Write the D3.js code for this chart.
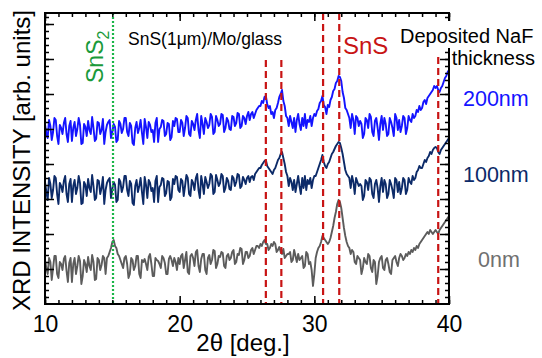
<!DOCTYPE html>
<html>
<head>
<meta charset="utf-8">
<script src="https://cdn.jsdelivr.net/npm/d3@7/dist/d3.min.js"></script>
<style>
  body { margin: 0; background: #fff; }
  svg { font-family: "Liberation Sans", Arial, sans-serif; }
</style>
</head>
<body>
<svg id="chart" width="542" height="358"></svg>
<script>
// scan grid: 2theta from 10 to 40 deg, 0.1 deg step
const scanStart = 10, scanStep = 0.1;

// NaF 200 nm
const nm200 = [
  180,170,166,184,178,164,172,186,184,168, 160,179,176,170,181,186,170,162,178,183,
  163,176,182,168,175,186,179,160,161,180, 177,168,183,174,170,187,176,163,165,182,
  181,170,174,185,160,172,179,182,184,166, 172,180,177,162,164,183,180,171,175,186,
  186,172,168,181,178,161,159,176,182,171, 176,184,171,160,185,177,166,182,179,172,
  174,162,181,186,162,175,177,184,183,168, 170,181,180,164,167,183,178,186,185,172,
  172,184,181,168,176,188,186,170,168,183, 180,174,184,190,174,166,188,180,170,186,
  182,176,179,190,187,170,172,188,184,178, 180,190,189,172,176,186,183,175,174,188,
  187,178,181,191,190,176,178,188,186,180,
  188,192,184,190,192,186,190,194,196,198,
  198,203,201,207,208,200,196,198,190,192, 186,194,196,201,207,210,214,203,198,188,186,
  178,188,182,176,186,172,184,190,180,174, 186,178,190,176,184,182,188,178,186,190,
  188,193,195,201,203,208,199,197,190,199, 197,204,207,213,215,221,223,228,227,223,
  212,206,196,194,
  190,186,176,190,184,170,188,186,178,183, 180,166,170,186,184,176,190,187,172,168,
  183,186,176,164,180,188,174,186,180,168, 170,186,182,176,168,190,186,174,184,172,
  178,188,186,170,176,188,
  184,182,190,186,188,194,192,198,194,196, 202,204,200,206,208,210,212,214,218,216,
  218,214,212,216,218,222,226,228,232,234
];

// NaF 100 nm
const nm100 = [
  122,112,104,126,120,106,114,128,126,110, 100,121,118,112,123,128,110,102,120,125,
  102,118,124,110,116,128,121,100,101,122, 119,108,125,116,112,129,118,104,106,124,
  123,110,116,127,100,114,121,124,126,106, 115,122,119,102,104,125,122,112,117,128,
  128,114,108,123,120,101,99,118,124,112, 118,126,112,100,127,119,106,124,121,113,
  116,102,123,128,102,117,119,126,125,108, 111,123,122,104,107,125,120,128,127,114,
  112,125,123,108,118,129,126,110,108,124, 121,114,126,130,114,106,128,120,110,127,
  122,116,120,130,128,110,112,129,124,118, 121,130,128,112,116,126,123,115,114,128,
  126,118,122,130,129,116,118,127,124,120,
  126,128,122,127,128,124,130,132,134,136,
  136,139,141,143,144,138,136,134,132,130, 134,136,140,144,146,150,152,146,140,132,128,
  118,126,122,114,124,112,120,128,118,110, 126,116,128,114,124,120,126,116,124,128,
  128,132,136,140,144,149,142,138,136,140, 142,146,150,152,155,158,160,162,161,156,
  150,142,134,130,
  128,126,116,128,122,110,126,122,118,120, 118,104,108,124,122,114,126,124,110,106,
  120,124,116,102,118,126,112,124,120,106, 110,124,120,114,106,126,124,112,122,110,
  116,126,124,110,114,126,
  122,120,128,124,126,132,134,138,136,136, 140,144,142,146,148,152,150,154,156,157,
  156,152,150,154,156,158,160,162,164,166
];

// NaF 0 nm
const nm0 = [
  44,36,30,46,42,24,36,48,48,30, 26,42,40,34,45,48,33,22,41,46,
  22,40,46,30,38,48,43,20,28,44, 40,32,47,38,34,49,42,24,25,46,
  44,34,39,48,46,30,
  46,48,52,56,62,64,58,56,50,48,44,
  40,36,46,48,40,26,30,46,44,34, 38,48,48,30,26,44,42,45,40,34,
  47,50,40,28,28,46,44,43,40,36, 48,46,41,30,30,45,48,44,38,46,
  42,34,46,
  40,48,50,36,44,52,32,30,48,50, 46,38,52,54,38,32,45,50,50,34,
  30,46,49,40,44,54,53,36,40,48, 47,52,51,38,36,48,50,44,46,52,
  54,40,42,50,49,56,55,40,44,52,
  52,46,48,54,56,50,54,58,58,56,60,
  58,62,64,60,60,54,56,60,58,62, 60,52,54,57,52,50,55,46,48,50,
  50,52,42,44,54,48,42,50,44,46, 48,36,38,52,50,40,42,34,18,30,
  46,52,56,58,
  62,68,66,64,62,60,62,66,72,78, 86,92,100,104,102,96,86,76,68,62,
  58,56,50,54,52,42,40,48,46,44, 30,36,46,42,40,50,48,36,32,44,
  42,20,28,42,46,48,36,34,44,46, 40,32,30,44,46,48,42,38,46,50,
  48,44,46,50,48,52,50,54,
  52,56,54,58,56,60,62,64,66,68, 70,72,70,74,72,70,72,74,72,70,
  74,76,78,80,82,84,86,88
];

const seriesNames = ["200nm", "100nm", "0nm"];
const seriesColors = ["#1414ff", "#0c2a68", "#5c5c5c"];
const labelColors = ["#1414ff", "#0c2a68", "#707070"];

const sns2Peak = 15.05;
const snsPeaks = [26.4, 27.55, 30.65, 31.85, 39.2];
const snsLineTop = [244, 244, 291, 291, 247];

const xMajor = [10, 20, 30, 40];

const svg = d3.select("#chart");
const pL = 45, pR = 449, pT = 13, pB = 304;

const x = d3.scaleLinear().domain([10, 40]).range([pL, pR]);
const y = d3.scaleLinear().domain([0, 291]).range([pB, pT]);

// data lines
const line = d3.line()
  .x((d, i) => x(scanStart + i * scanStep))
  .y(d => y(d));

[nm200, nm100, nm0].forEach((s, k) => {
  svg.append("path")
    .datum(s)
    .attr("fill", "none")
    .attr("stroke", seriesColors[k])
    .attr("stroke-width", 1.9)
    .attr("stroke-linejoin", "round")
    .attr("d", line);
});

// reference lines
svg.append("line")
  .attr("x1", x(sns2Peak)).attr("x2", x(sns2Peak))
  .attr("y1", y(291)).attr("y2", y(0))
  .attr("stroke", "#19b548").attr("stroke-width", 2.2)
  .attr("stroke-dasharray", "2,2");

svg.selectAll("line.sns")
  .data(snsPeaks)
  .enter().append("line")
  .attr("class", "sns")
  .attr("x1", d => x(d)).attr("x2", d => x(d))
  .attr("y1", (d, i) => y(snsLineTop[i])).attr("y2", y(0))
  .attr("stroke", "#c81414").attr("stroke-width", 2.2)
  .attr("stroke-dasharray", "7,4");

// axes with inward ticks
function noDomain(g) { g.select(".domain").remove(); g.selectAll("line").attr("stroke", "#000").attr("stroke-width", 1.5); }

svg.append("g").attr("transform", `translate(0,${pB})`)
  .call(d3.axisBottom(x).tickValues(d3.range(10, 41, 1)).tickSize(-4).tickFormat(""))
  .call(noDomain);
svg.append("g").attr("transform", `translate(0,${pB})`)
  .call(d3.axisBottom(x).tickValues(xMajor).tickSize(-8).tickPadding(12).tickFormat(d3.format("d")))
  .call(noDomain)
  .call(g => g.selectAll("text").attr("font-size", 23).attr("fill", "#000").attr("font-family", "Liberation Sans, Arial, sans-serif"));
svg.append("g").attr("transform", `translate(0,${pT})`)
  .call(d3.axisTop(x).tickValues(d3.range(10, 41, 1)).tickSize(-4).tickFormat(""))
  .call(noDomain);
svg.append("g").attr("transform", `translate(0,${pT})`)
  .call(d3.axisTop(x).tickValues(xMajor).tickSize(-8).tickFormat(""))
  .call(noDomain);

svg.append("g").attr("transform", `translate(${pL},0)`)
  .call(d3.axisLeft(y).tickValues(d3.range(7, 291, 7)).tickSize(-4).tickFormat(""))
  .call(noDomain);
svg.append("g").attr("transform", `translate(${pL},0)`)
  .call(d3.axisLeft(y).tickValues(d3.range(35, 291, 35)).tickSize(-9).tickFormat(""))
  .call(noDomain);
svg.append("g").attr("transform", `translate(${pR},0)`)
  .call(d3.axisRight(y).tickValues(d3.range(7, 291, 7)).tickSize(-4).tickFormat(""))
  .call(noDomain);
svg.append("g").attr("transform", `translate(${pR},0)`)
  .call(d3.axisRight(y).tickValues(d3.range(35, 291, 35)).tickSize(-9).tickFormat(""))
  .call(noDomain);

svg.append("rect")
  .attr("x", pL).attr("y", pT)
  .attr("width", pR - pL).attr("height", pB - pT)
  .attr("fill", "none").attr("stroke", "#000").attr("stroke-width", 2);

// annotation box over right axis
svg.append("rect")
  .attr("x", 398).attr("y", 21).attr("width", 140).attr("height", 27)
  .attr("fill", "#fff");
svg.append("text").attr("x", 400).attr("y", 43)
  .attr("font-size", 20).attr("fill", "#000").text("Deposited NaF");
svg.append("text").attr("x", 535).attr("y", 65).attr("text-anchor", "end")
  .attr("font-size", 20).attr("fill", "#000").text("thickness");

// series labels
const labelY = [106, 182, 267];
const labelX = [463, 463, 478];
seriesNames.forEach((n, k) => {
  svg.append("text").attr("x", labelX[k]).attr("y", labelY[k])
    .attr("font-size", 21.5).attr("fill", labelColors[k]).text(n);
});

svg.append("text").attr("x", 128).attr("y", 45)
  .attr("font-size", 17.5).attr("fill", "#000").text("SnS(1μm)/Mo/glass");

svg.append("text").attr("x", 343).attr("y", 54)
  .attr("font-size", 24).attr("fill", "#c81414").text("SnS");

const sns2 = svg.append("text")
  .attr("transform", "translate(103,83) rotate(-90)")
  .attr("font-size", 23).attr("fill", "#1a9a3a");
sns2.append("tspan").text("SnS");
sns2.append("tspan").attr("font-size", 16).attr("dy", 6).text("2");

// axis titles
svg.append("text")
  .attr("transform", `translate(30,${(pT + pB) / 2 + 2}) rotate(-90)`)
  .attr("text-anchor", "middle").attr("font-size", 24).attr("fill", "#000")
  .text("XRD INTENSITY [arb. units]");

svg.append("text").attr("x", 243).attr("y", 351)
  .attr("text-anchor", "middle").attr("font-size", 24).attr("fill", "#000")
  .text("2θ [deg.]");
</script>
</body>
</html>
